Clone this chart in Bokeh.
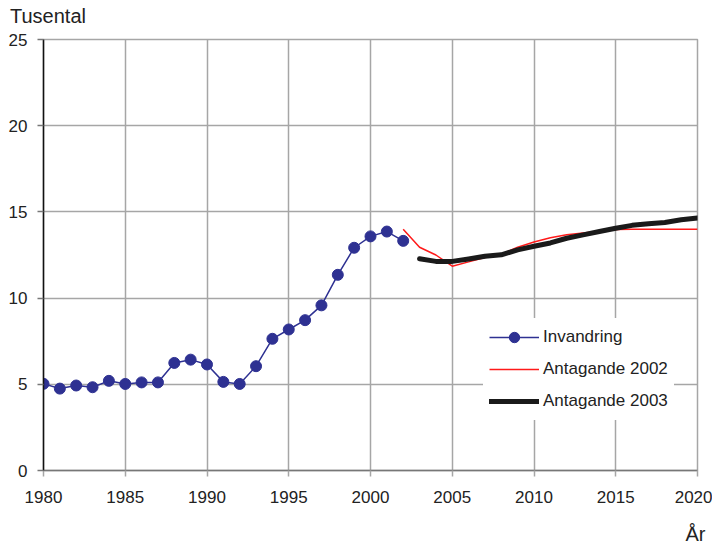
from bokeh.plotting import figure
from bokeh.models import Range1d, Legend, LegendItem, LinearAxis, FixedTicker
from bokeh.embed import file_html
from bokeh.resources import INLINE

years_hist = list(range(1980, 2003))
invandring = [5.03, 4.75, 4.93, 4.83, 5.2, 5.02, 5.11, 5.11, 6.24, 6.43, 6.15,
              5.14, 5.02, 6.05, 7.64, 8.18, 8.72, 9.58, 11.35, 12.92, 13.58, 13.86, 13.32]

years_a2002 = list(range(2002, 2021))
antagande_2002 = [14.0, 12.95, 12.5, 11.85, 12.1, 12.35, 12.55, 12.95, 13.25, 13.5,
                  13.68, 13.78, 13.88, 13.98, 14.0, 14.0, 14.0, 14.0, 14.0]

years_a2003 = list(range(2003, 2021))
antagande_2003 = [12.28, 12.13, 12.13, 12.27, 12.43, 12.51, 12.8, 13.01, 13.2, 13.47,
                  13.67, 13.86, 14.05, 14.22, 14.31, 14.39, 14.54, 14.64]

x_ticks = [1980, 1985, 1990, 1995, 2000, 2005, 2010, 2015, 2020]
y_ticks = [0, 5, 10, 15, 20, 25]

FONT = "Liberation Sans"
TXT = "#222222"
GRID = "#a6a6a6"

p = figure(width=712, height=550, output_backend="svg", toolbar_location=None,
           x_range=Range1d(1980, 2020), y_range=Range1d(0, 25),
           min_border_left=43, min_border_top=39, min_border_right=15, min_border_bottom=80)

p.outline_line_color = GRID
p.outline_line_width = 1.5
p.background_fill_color = "white"

p.xaxis.ticker = FixedTicker(ticks=x_ticks)
p.yaxis.ticker = FixedTicker(ticks=y_ticks)
for ax in (p.xaxis, p.yaxis):
    ax.major_label_text_font = FONT
    ax.major_label_text_font_size = "17px"
    ax.major_label_text_color = TXT
    ax.major_tick_out = 6
    ax.major_tick_in = 0
    ax.minor_tick_out = 0
    ax.minor_tick_in = 0
    ax.major_tick_line_width = 1.5
p.xaxis.axis_line_color = "#777777"
p.xaxis.major_tick_line_color = GRID
p.xaxis.axis_line_width = 1.5
p.xaxis.major_label_standoff = 14
p.yaxis.axis_line_color = "#111111"
p.yaxis.axis_line_width = 1.5
p.yaxis.major_tick_line_color = "#777777"
p.yaxis.major_label_standoff = 10

p.xgrid.ticker = FixedTicker(ticks=x_ticks)
p.ygrid.ticker = FixedTicker(ticks=y_ticks)
p.grid.grid_line_color = GRID
p.grid.grid_line_width = 1.5

# unit label "Tusental" above the plot, axis title "År" below, as text-only axes
TUS_AT = 1980.275
AR_AT = 2019.88
top_ax = LinearAxis(ticker=FixedTicker(ticks=[TUS_AT]), major_label_overrides={TUS_AT: "Tusental"},
                    axis_line_color=None, major_tick_line_color=None, minor_tick_line_color=None,
                    major_tick_out=0, major_tick_in=0, minor_tick_out=0, minor_tick_in=0,
                    major_label_standoff=13, major_label_text_font=FONT,
                    major_label_text_font_size="20px", major_label_text_color=TXT)
p.add_layout(top_ax, "above")

bot_ax = LinearAxis(ticker=FixedTicker(ticks=[AR_AT]), major_label_overrides={AR_AT: "År"},
                    axis_line_color=None, major_tick_line_color=None, minor_tick_line_color=None,
                    major_tick_out=0, major_tick_in=0, minor_tick_out=0, minor_tick_in=0,
                    major_label_standoff=17, major_label_text_font=FONT,
                    major_label_text_font_size="20px", major_label_text_color=TXT)
p.add_layout(bot_ax, "below")

blue = "#2e3192"
l1 = p.line(years_hist, invandring, line_color=blue, line_width=1.5)
s1 = p.scatter(years_hist, invandring, size=11, fill_color=blue, line_color=blue)
l2 = p.line(years_a2002, antagande_2002, line_color="#ff1a1a", line_width=1.5)
l3 = p.line(years_a2003, antagande_2003, line_color="#1a1a1a", line_width=5, line_cap="round", line_join="round")

legend = Legend(items=[
    LegendItem(label="Invandring", renderers=[l1, s1]),
    LegendItem(label="Antagande 2002", renderers=[l2]),
    LegendItem(label="Antagande 2003", renderers=[l3]),
], location=(440, 50))
legend.label_text_font = FONT
legend.label_text_font_size = "17px"
legend.label_text_color = TXT
legend.border_line_alpha = 0
legend.background_fill_color = "white"
legend.background_fill_alpha = 1
legend.glyph_width = 50
legend.glyph_height = 26
legend.label_height = 26
legend.label_standoff = 4
legend.spacing = 6
legend.padding = 6
legend.margin = 0
p.add_layout(legend, "center")

open("out.html", "w").write(file_html(p, INLINE))
